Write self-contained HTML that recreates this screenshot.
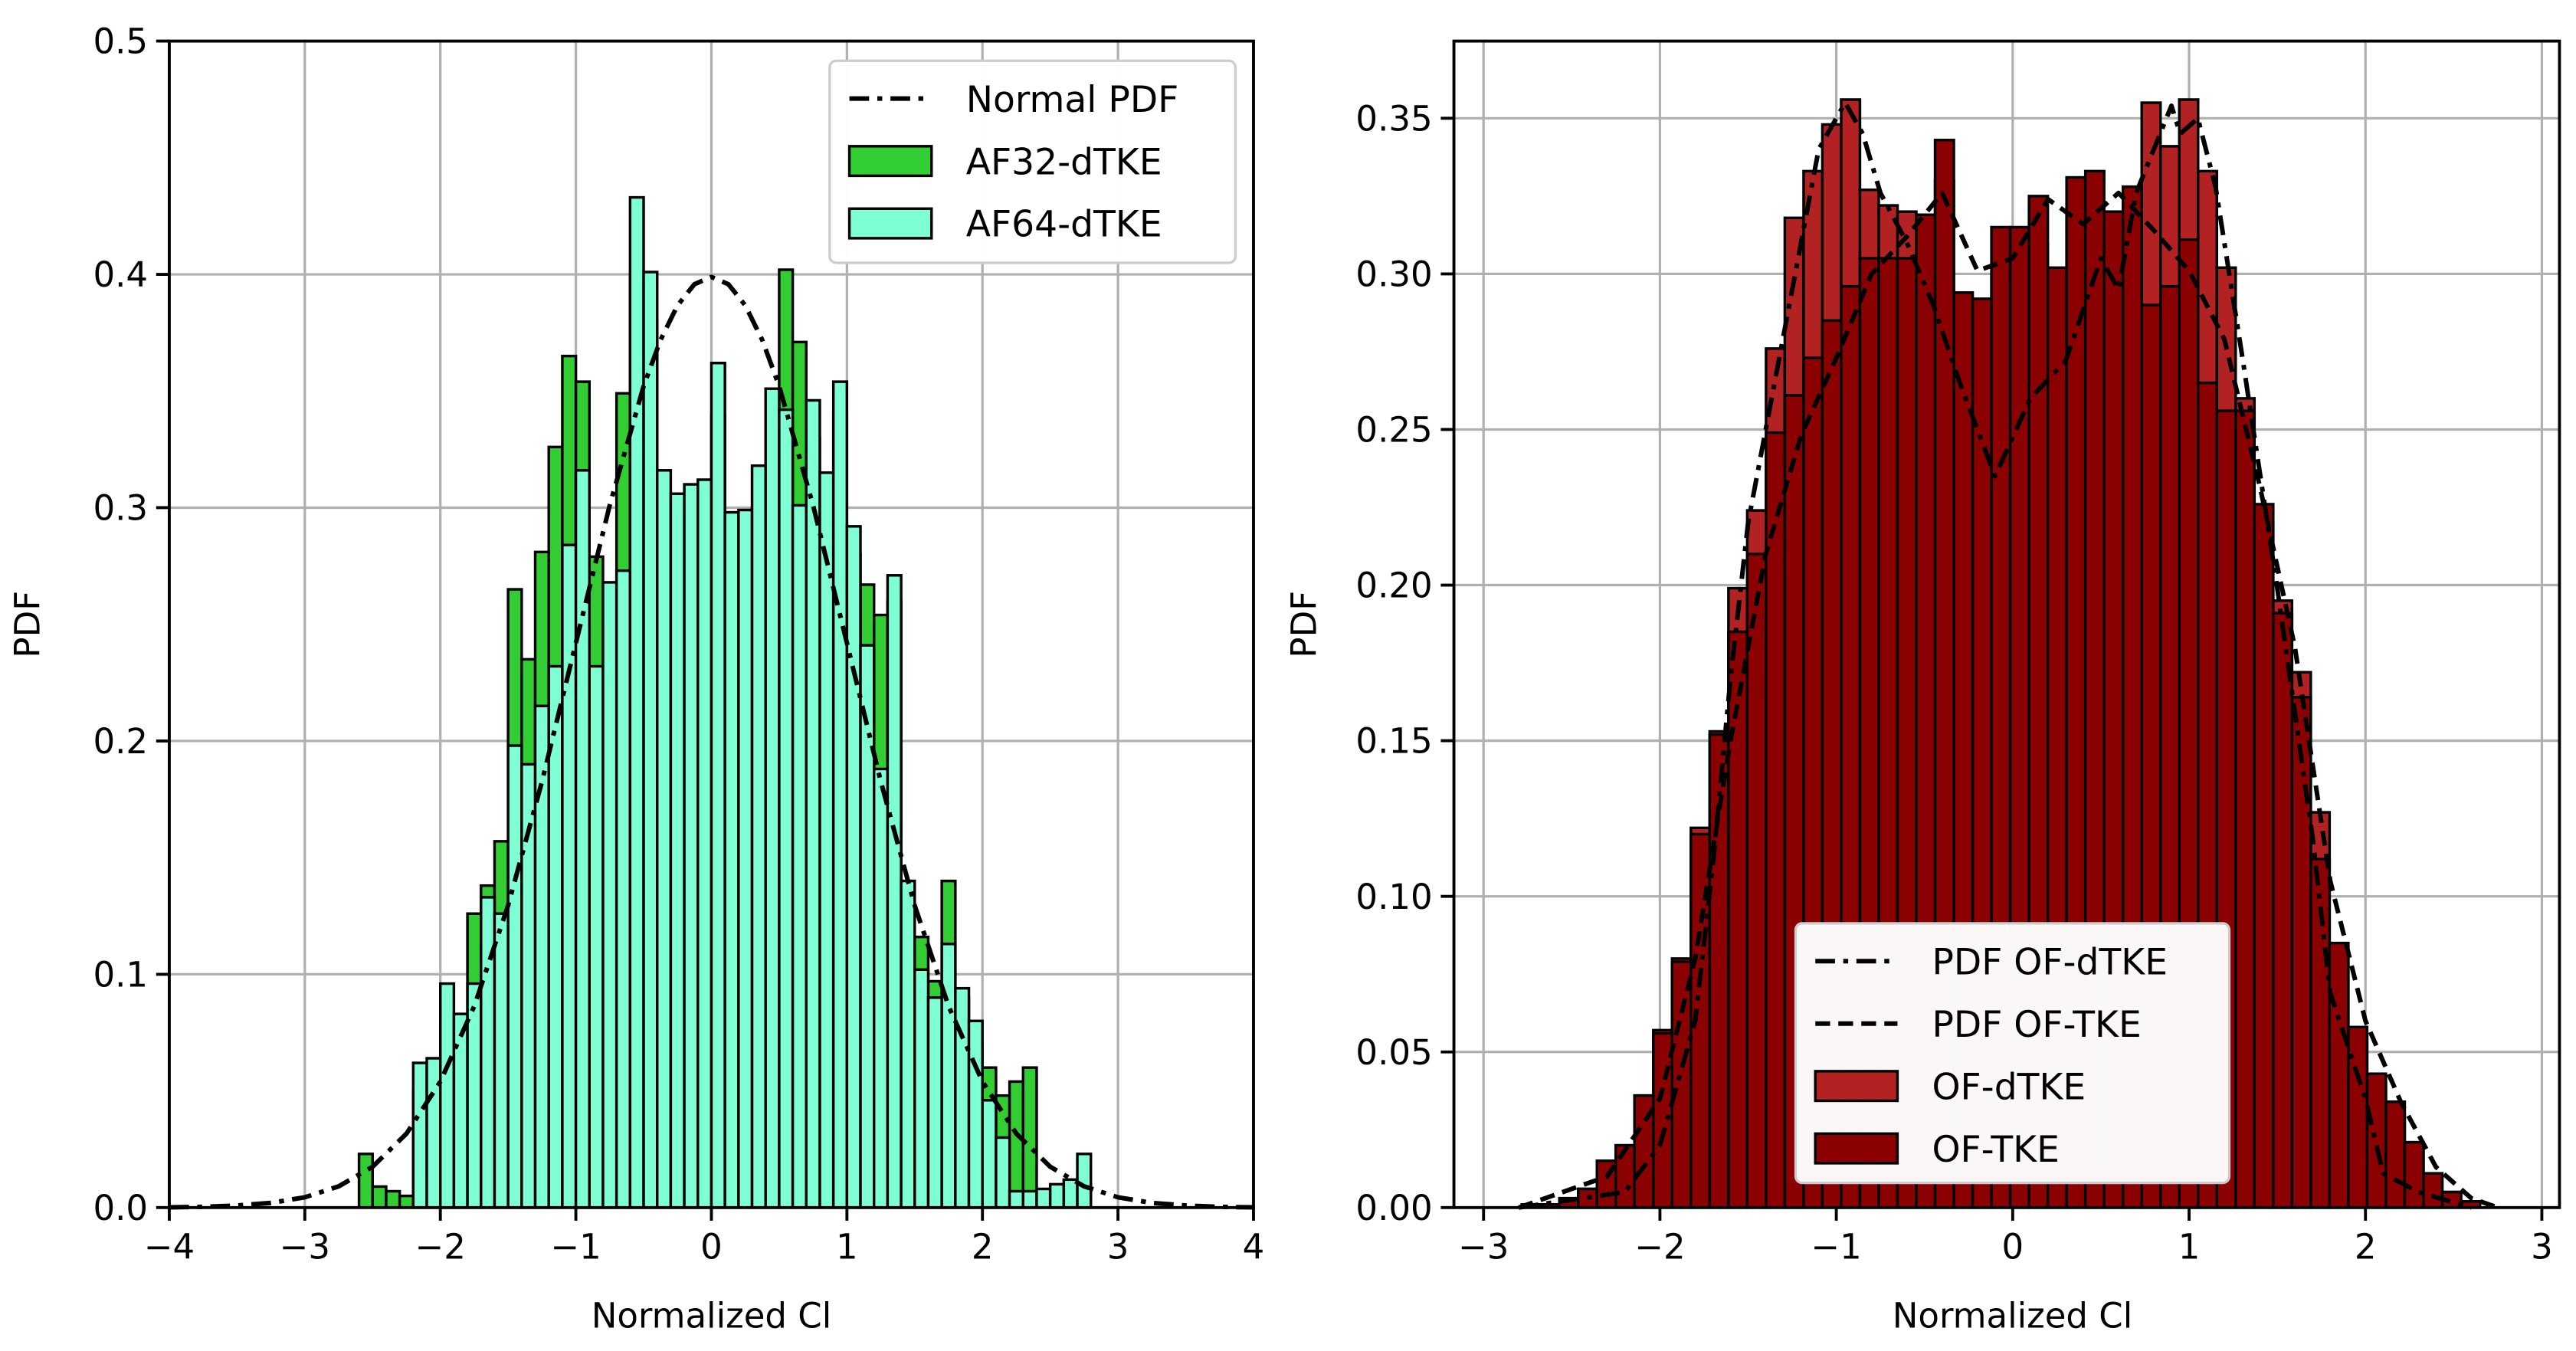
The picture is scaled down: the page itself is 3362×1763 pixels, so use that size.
<!DOCTYPE html>
<html><head><meta charset="utf-8"><style>
html,body{margin:0;padding:0;background:#fff}
svg{display:block}
text{font-family:"DejaVu Sans","Liberation Sans",sans-serif;fill:#000}
</style></head><body>
<svg id="chart" xmlns="http://www.w3.org/2000/svg" width="3362" height="1763" viewBox="0 0 1568 822.3">
<rect width="1568" height="822.3" fill="#fff"/>
<g id="left"></g>
<g id="right"></g>
</svg>
<script>
// ---- Left chart data ----
const leftBinStart = -2.6;
const leftBinWidth = 0.1;
const af32Values = [0.023,0.009,0.007,0.005,0.05,0.05,0.08,0.07,0.126,0.138,0.157,0.265,0.235,0.281,0.326,0.365,0.354,0.279,0.25,0.349,0.40,0.38,0.3,0.29,0.3,0.3,0.34,0.28,0.29,0.3,0.33,0.402,0.371,0.33,0.3,0.34,0.28,0.267,0.254,0.26,0.14,0.116,0.097,0.14,0.09,0.07,0.06,0.048,0.054,0.06,0.005,0.005,0.005,0.01];
const af64Values = [0,0,0,0,0.062,0.064,0.096,0.083,0.096,0.133,0.126,0.198,0.19,0.215,0.232,0.284,0.316,0.232,0.268,0.273,0.433,0.401,0.316,0.306,0.31,0.312,0.362,0.298,0.299,0.318,0.351,0.342,0.301,0.346,0.315,0.354,0.292,0.241,0.188,0.271,0.14,0.102,0.09,0.113,0.094,0.08,0.046,0.03,0.007,0.007,0.008,0.01,0.012,0.023];
const normalX = [-4,-3.75,-3.5,-3.25,-3,-2.75,-2.5,-2.25,-2,-1.75,-1.5,-1.25,-1,-0.75,-0.5,-0.375,-0.25,-0.125,0,0.125,0.25,0.375,0.5,0.75,1,1.25,1.5,1.75,2,2.25,2.5,2.75,3,3.25,3.5,3.75,4];
const normalY = [0.0001,0.0003,0.0009,0.002,0.0044,0.0091,0.0175,0.0317,0.054,0.0863,0.1295,0.1826,0.242,0.3011,0.3521,0.3719,0.3867,0.3958,0.3989,0.3958,0.3867,0.3719,0.3521,0.3011,0.242,0.1826,0.1295,0.0863,0.054,0.0317,0.0175,0.0091,0.0044,0.002,0.0009,0.0003,0.0001];
const leftXTicks = [-4,-3,-2,-1,0,1,2,3,4];
const leftYTicks = [0,0.1,0.2,0.3,0.4,0.5];
const leftYLabels = ["0.0","0.1","0.2","0.3","0.4","0.5"];
// ---- Right chart data ----
const rightBinStart = -2.783;
const rightBinWidth = 0.1065;
const ofTkeValues = [0.001,0.001,0.003,0.006,0.015,0.02,0.036,0.056,0.079,0.12,0.152,0.185,0.21,0.249,0.261,0.273,0.285,0.296,0.305,0.305,0.305,0.319,0.343,0.294,0.292,0.315,0.315,0.325,0.302,0.331,0.333,0.32,0.328,0.29,0.296,0.311,0.265,0.256,0.256,0.226,0.191,0.164,0.112,0.085,0.058,0.043,0.034,0.021,0.011,0.005,0.002];
const ofDtkeValues = [0.001,0.001,0.003,0.006,0.015,0.02,0.036,0.057,0.08,0.122,0.153,0.199,0.224,0.276,0.318,0.333,0.348,0.356,0.327,0.322,0.32,0.3,0.33,0.28,0.28,0.3,0.3,0.31,0.29,0.32,0.32,0.31,0.328,0.355,0.341,0.356,0.333,0.302,0.26,0.22,0.195,0.172,0.127,0.08,0.055,0.04,0.03,0.02,0.01,0.005,0.002];
const pdfDtkeX = [-2.8,-2.2,-2.0,-1.8,-1.7,-1.6,-1.5,-1.4,-1.3,-1.2,-1.1,-0.95,-0.85,-0.75,-0.6,-0.45,-0.3,-0.1,0.1,0.3,0.5,0.6,0.7,0.9,0.95,1.05,1.15,1.3,1.5,1.7,1.8,2.0,2.1,2.3,2.6];
const pdfDtkeY = [0,0.005,0.02,0.06,0.11,0.17,0.22,0.25,0.28,0.31,0.34,0.355,0.345,0.326,0.31,0.29,0.265,0.235,0.26,0.272,0.305,0.295,0.326,0.354,0.345,0.35,0.328,0.274,0.199,0.119,0.069,0.035,0.011,0.005,0];
const pdfTkeX = [-2.8,-2.3,-2.0,-1.8,-1.6,-1.4,-1.2,-1.0,-0.8,-0.6,-0.4,-0.2,0,0.2,0.4,0.6,0.8,1.0,1.2,1.4,1.6,1.8,2.0,2.2,2.4,2.6,2.75];
const pdfTkeY = [0,0.01,0.035,0.08,0.15,0.21,0.248,0.273,0.3,0.312,0.326,0.301,0.305,0.324,0.316,0.326,0.314,0.301,0.279,0.232,0.18,0.105,0.06,0.034,0.013,0.003,0];
const rightXTicks = [-3,-2,-1,0,1,2,3];
const rightYTicks = [0,0.05,0.1,0.15,0.2,0.25,0.3,0.35];
const rightYLabels = ["0.00","0.05","0.10","0.15","0.20","0.25","0.30","0.35"];

const NS="http://www.w3.org/2000/svg";
function mk(tag,attrs,parent){const e=document.createElementNS(NS,tag);for(const k in attrs)e.setAttribute(k,attrs[k]);parent.appendChild(e);return e;}

const L={x0:103,x1:763,y0:735,y1:25,xmin:-4,xmax:4,ymin:0,ymax:0.5};
const R={x0:885,x1:1558,y0:735,y1:25,xmin:-3.168,xmax:3.1,ymin:0,ymax:0.3748};
function sx(a,v){return a.x0+(v-a.xmin)/(a.xmax-a.xmin)*(a.x1-a.x0);}
function sy(a,v){return a.y0-(v-a.ymin)/(a.ymax-a.ymin)*(a.y0-a.y1);}

function grid(g,a,xt,yt){
  for(const t of xt){const l=mk('line',{x1:sx(a,t),x2:sx(a,t),y1:a.y1,y2:a.y0,stroke:'#b0b0b0','stroke-width':1.5},g);
    }
  for(const t of yt){const l=mk('line',{x1:a.x0,x2:a.x1,y1:sy(a,t),y2:sy(a,t),stroke:'#b0b0b0','stroke-width':1.5},g);
    }
}
function bars(g,a,start,w,vals,color,name){
  vals.forEach((v,i)=>{if(v<=0)return;
    const xa=sx(a,start+i*w),xb=sx(a,start+(i+1)*w),yt=sy(a,v);
    const r=mk('rect',{x:xa,y:yt,width:xb-xa,height:a.y0-yt,fill:color,stroke:'#000','stroke-width':1.6},g);
    
    });
}
function curve(g,a,xs,ys,dash,name){
  const d=xs.map((x,i)=>(i?'L':'M')+sx(a,x).toFixed(2)+','+sy(a,ys[i]).toFixed(2)).join(' ');
  const p=mk('path',{d:d,fill:'none',stroke:'#000','stroke-width':2.8,'stroke-dasharray':dash,'stroke-linejoin':'round'},g);
  
  
}
function axes(g,a,xt,yt,yl,ylabX,xlabC){
  const f=mk('rect',{x:a.x0,y:a.y1,width:a.x1-a.x0,height:a.y0-a.y1,fill:'none',stroke:'#000','stroke-width':1.8},g);
  
  xt.forEach(t=>{const x=sx(a,t);mk('line',{x1:x,x2:x,y1:a.y0,y2:a.y0+8,stroke:'#000','stroke-width':1.8},g);
    const tx=mk('text',{x:x,y:a.y0+31,'font-size':21,'text-anchor':'middle'},g);tx.textContent=(t<0?'\u2212'+(-t):String(t));
    });
  yt.forEach((t,i)=>{const y=sy(a,t);mk('line',{x1:a.x0-8,x2:a.x0,y1:y,y2:y,stroke:'#000','stroke-width':1.8},g);
    const tx=mk('text',{x:a.x0-13,y:y+7.5,'font-size':21,'text-anchor':'end'},g);tx.textContent=yl[i];
    });
  const xl=mk('text',{x:xlabC,y:808,'font-size':21,'text-anchor':'middle'},g);xl.textContent='Normalized Cl';
  
  const yl2=mk('text',{x:ylabX,y:380,'font-size':21,'text-anchor':'middle',transform:`rotate(-90 ${ylabX} 380)`},g);yl2.textContent='PDF';
  
}
function legend(g,x,y,w,h,items){
  const b=mk('rect',{x:x,y:y,width:w,height:h,rx:4,fill:'#fff','fill-opacity':0.97,stroke:'#ccc','stroke-width':1.5},g);
  
  items.forEach((it,i)=>{const cy=y+23+i*38;
    if(it.dash!==undefined){mk('line',{x1:x+12,x2:x+62,y1:cy,y2:cy,stroke:'#000','stroke-width':2.8,'stroke-dasharray':it.dash},g);}
    else{mk('rect',{x:x+12,y:cy-9,width:50,height:18,fill:it.color,stroke:'#000','stroke-width':1.6},g);}
    const t=mk('text',{x:x+83,y:cy+8,'font-size':22},g);t.textContent=it.label;
    });
}

const gl=document.getElementById('left');
grid(gl,L,leftXTicks,leftYTicks);
bars(gl,L,leftBinStart,leftBinWidth,af32Values,'#32cd32','bar-af32');
bars(gl,L,leftBinStart,leftBinWidth,af64Values,'#7fffd4','bar-af64');
curve(gl,L,normalX,normalY,'12 5 3 5','normal-pdf-line');
axes(gl,L,leftXTicks,leftYTicks,leftYLabels,24,433);
legend(gl,505,37,247,123,[{dash:'12 5 3 5',label:'Normal PDF'},{color:'#32cd32',label:'AF32-dTKE'},{color:'#7fffd4',label:'AF64-dTKE'}]);

const gr=document.getElementById('right');
grid(gr,R,rightXTicks,rightYTicks);
bars(gr,R,rightBinStart,rightBinWidth,ofDtkeValues,'#b22222','bar-of-dtke');
bars(gr,R,rightBinStart,rightBinWidth,ofTkeValues,'#8b0000','bar-of-tke');
curve(gr,R,pdfDtkeX,pdfDtkeY,'12 5 3 5','pdf-of-dtke-line');
curve(gr,R,pdfTkeX,pdfTkeY,'9 5','pdf-of-tke-line');
axes(gr,R,rightXTicks,rightYTicks,rightYLabels,801,1225);
legend(gr,1093,562,264,158,[{dash:'12 5 3 5',label:'PDF OF-dTKE'},{dash:'9 5',label:'PDF OF-TKE'},{color:'#b22222',label:'OF-dTKE'},{color:'#8b0000',label:'OF-TKE'}]);
</script>
</body></html>
